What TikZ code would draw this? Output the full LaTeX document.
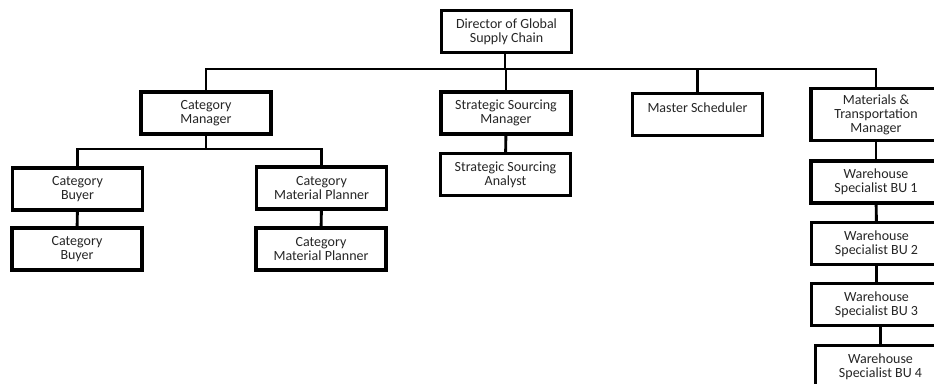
\documentclass[tikz,border=0pt]{standalone}
\usepackage{fontspec}
\setmainfont{Carlito}
\begin{document}
\begin{tikzpicture}[x=0.75pt,y=-0.75pt,
  box/.style={draw=black, line width=2.3pt, minimum width=97.5pt, minimum height=31.5pt,
    inner sep=0pt, align=center, text=black!85,
    font=\fontsize{10.5pt}{10.4pt}\selectfont},
  tall/.style={minimum height=39.5pt},
  conn/.style={line width=2.2pt, line cap=rect}]
\useasboundingbox[fill=white] (0,0) rectangle (934,383);
% level 0
\node[box] (dir) at (506.5,31.5) {Director of Global\\Supply Chain};
% level 1
\node[box] (cm)  at (206,113)   {Category\\Manager};
\node[box] (ssm) at (506,113)   {Strategic Sourcing\\Manager};
\node[box] (ms)  at (697.5,114.5) {Master Scheduler\\\mbox{}};
\node[box,tall] (mtm) at (876,114.5) {Materials \&\\Transportation\\Manager};
% level 2
\node[box] (ssa)  at (505.5,174.5) {Strategic Sourcing\\Analyst};
\node[box] (cb1)  at (77.5,189)   {Category\\Buyer};
\node[box] (cmp1) at (321.5,188)  {Category\\Material Planner};
\node[box] (cb2)  at (77,249)     {Category\\Buyer};
\node[box] (cmp2) at (321,249)    {Category\\Material Planner};
\node[box] (bu1)  at (876,182)    {Warehouse\\Specialist BU 1};
\node[box] (bu2)  at (876.5,243.5) {Warehouse\\Specialist BU 2};
\node[box] (bu3)  at (876.5,304.5) {Warehouse\\Specialist BU 3};
\node[box] (bu4)  at (880.5,366.5) {Warehouse\\Specialist BU 4};
% buses
\coordinate (topbus) at (505,69);
\coordinate (cmbus) at (204,149);
\draw[conn] (dir.south -| topbus) -- (topbus);
\draw[conn] (cm.north) -- (cm.north |- topbus) -- (mtm.north |- topbus) -- (mtm.north);
\draw[conn] (ssm.north) -- (ssm.north |- topbus);
\draw[conn] (ms.north) -- (ms.north |- topbus);
\draw[conn] (cm.south) -- (cm.south |- cmbus);
\draw[conn] (cb1.north) -- (cb1.north |- cmbus) -- (cmp1.north |- cmbus) -- (cmp1.north);
\draw[conn] (cb1) -- (cb2);
\draw[conn] (cmp1) -- (cmp2);
\draw[conn] (ssm) -- (ssa);
\draw[conn] (mtm) -- (bu1);
\draw[conn] (bu1) -- (bu2);
\draw[conn] (bu2) -- (bu3);
\draw[conn] (bu4.north |- bu3.south) -- (bu4.north);
\end{tikzpicture}
\end{document}
